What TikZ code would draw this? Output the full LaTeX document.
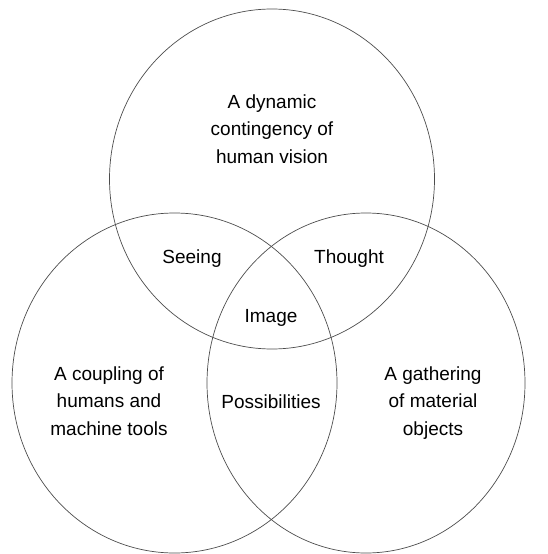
\documentclass[tikz,border=0pt]{standalone}
\usepackage{fontspec}
\setmainfont{Liberation Sans}
\begin{document}
\begin{tikzpicture}[x=1pt,y=-1pt,
  ring/.style={draw=black!70,line width=0.7pt},
  lbl/.style={align=center,font=\fontsize{19}{27.5}\selectfont,inner sep=0pt,anchor=base}]
\useasboundingbox (0,0) rectangle (548,554);
% three sets
\draw[ring] (272,179) ellipse [x radius=162.5,y radius=170];
\draw[ring] (174.5,383) ellipse [x radius=162.5,y radius=170];
\draw[ring] (366,383) ellipse [x radius=159,y radius=170];
% labels (base = last line)
\node[lbl] (vision) at (272,163) {A dynamic\\contingency of\\human vision};
\node[lbl] (tools) at (109,435) {A coupling of\\humans and\\machine tools};
\node[lbl] (objects) at (433,435) {A gathering\\of material\\objects};
\node[lbl] (seeing) at (192,263) {Seeing};
\node[lbl] (thought) at (349,263) {Thought};
\node[lbl] (image) at (271,322) {Image};
\node[lbl] (possib) at (271,408) {Possibilities};
\end{tikzpicture}
\end{document}
